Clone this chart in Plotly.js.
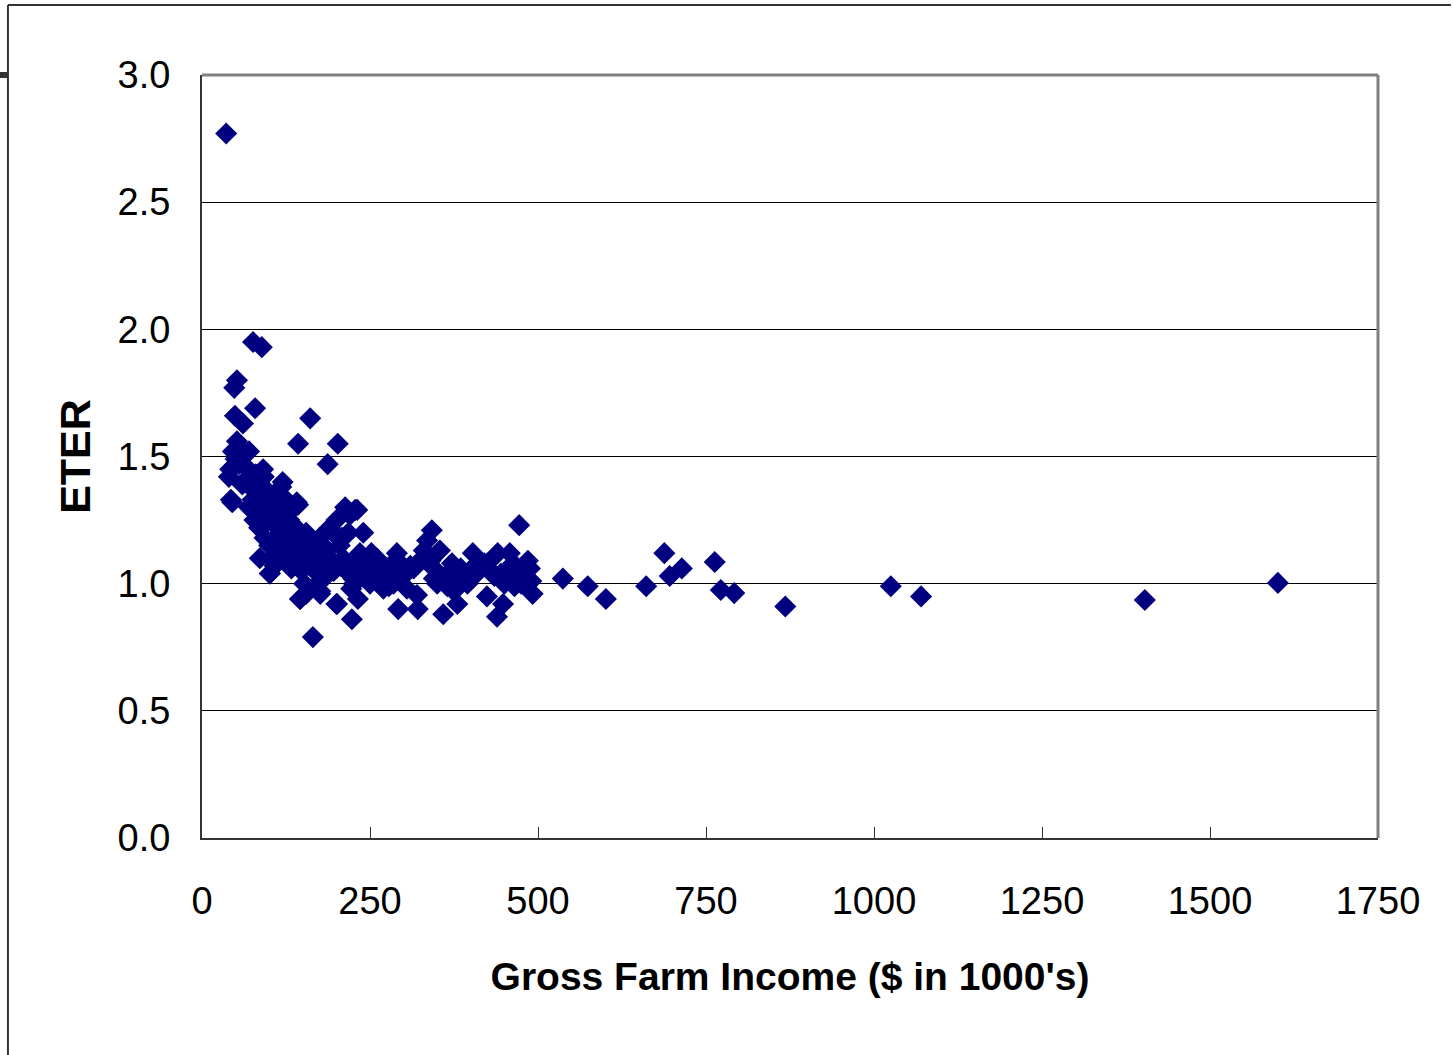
<!DOCTYPE html>
<html>
<head>
<meta charset="utf-8">
<script src="https://cdn.plot.ly/plotly-3.0.1.min.js"></script>
<style>html,body{margin:0;padding:0;background:#fff;}#chart{width:1453px;height:1055px;}</style>
</head>
<body>
<div id="chart"></div>
<script>
// Gross Farm Income ($ in 1000's)
const grossFarmIncome = [
  36, 40, 43, 45, 48, 52, 49, 61, 79, 76, 89, 52, 46, 50, 55, 65, 70, 42, 58, 66,
  72, 80, 85, 92, 60, 75, 82, 88, 95, 100, 78, 85, 90, 98, 105, 110, 118, 125, 93, 100,
  103, 101, 108, 112, 115, 120, 125, 130, 135, 140, 143, 128, 133, 138, 145, 150, 155, 148, 152, 146,
  155, 160, 165, 170, 175, 180, 168, 172, 176, 182, 185, 190, 195, 200, 190, 205, 210, 213, 220, 228,
  231, 215, 200, 222, 225, 230, 235, 240, 232, 245, 250, 255, 260, 265, 270, 275, 280, 290, 285, 292,
  300, 305, 315, 320, 321, 328, 335, 342, 354, 345, 350, 359, 362, 370, 375, 380, 384, 390, 395, 403,
  410, 415, 424, 430, 439, 440, 448, 450, 458, 463, 470, 472, 475, 480, 488, 490, 492, 485,
  161, 143, 202, 187, 91, 120, 141, 86, 101, 146, 176, 201, 223, 165,
  537, 574, 601, 661, 688, 696, 714, 763, 772, 792, 868, 1025, 1070, 1403, 1601,
  70, 82, 95, 108, 118, 130, 112, 122, 136, 158, 163, 178, 186, 196, 208, 218, 238, 248, 258, 268,
  278, 295, 310, 330, 340, 355, 372, 398, 420, 435, 455, 468, 110, 125, 140, 162, 184, 206, 226, 252,
  265, 285, 305, 345, 365, 385, 405, 425, 445, 465
];
// ETER
const eter = [
  2.77, 1.42, 1.33, 1.32, 1.77, 1.80, 1.66, 1.63, 1.69, 1.95, 1.93, 1.56, 1.52, 1.49, 1.47, 1.46, 1.52, 1.45, 1.53, 1.41,
  1.38, 1.43, 1.40, 1.42, 1.39, 1.33, 1.30, 1.35, 1.37, 1.33, 1.25, 1.22, 1.27, 1.30, 1.28, 1.35, 1.38, 1.33, 1.18, 1.15,
  1.10, 1.04, 1.07, 1.22, 1.25, 1.20, 1.15, 1.25, 1.18, 1.22, 1.31, 1.10, 1.06, 1.12, 1.10, 1.15, 1.20, 1.05, 1.00, 0.94,
  0.96, 1.08, 1.14, 1.12, 1.18, 1.15, 1.05, 1.00, 0.97, 1.08, 1.03, 1.10, 1.20, 1.25, 1.22, 1.15, 1.10, 1.30, 1.27, 1.29,
  1.29, 1.05, 0.92, 0.98, 1.02, 1.08, 1.12, 1.20, 0.94, 1.05, 1.00, 1.08, 1.10, 1.04, 0.98, 1.02, 1.07, 1.12, 1.00, 0.90,
  1.03, 1.05, 1.06, 0.955, 0.90, 1.10, 1.17, 1.21, 1.13, 1.06, 1.00, 0.88, 1.03, 1.05, 0.97, 0.92, 1.01, 1.04, 1.00, 1.12,
  1.06, 1.07, 0.95, 1.05, 0.87, 1.12, 0.92, 1.00, 1.12, 1.08, 1.03, 1.23, 1.00, 1.05, 1.06, 1.01, 0.96, 1.09,
  1.65, 1.55, 1.55, 1.47, 1.45, 1.40, 1.32, 1.10, 1.04, 0.94, 0.96, 0.92, 0.86, 0.79,
  1.02, 0.99, 0.94, 0.99, 1.12, 1.03, 1.06, 1.085, 0.975, 0.963, 0.91, 0.99, 0.95, 0.936, 1.003,
  1.30, 1.26, 1.24, 1.18, 1.30, 1.28, 1.13, 1.16, 1.14, 1.12, 1.10, 1.06, 1.13, 1.05, 1.18, 1.20, 1.03, 1.10, 1.06, 1.00,
  0.99, 1.08, 1.07, 1.13, 1.09, 1.02, 1.08, 1.05, 1.08, 1.03, 1.05, 1.06, 1.17, 1.12, 1.15, 1.17, 1.11, 1.07, 1.00, 1.12,
  1.06, 1.04, 0.98, 1.02, 0.99, 1.06, 1.03, 1.08, 1.04, 0.99
];
const xTickVals = [0, 250, 500, 750, 1000, 1250, 1500, 1750];
const yTickVals = [0, 0.5, 1.0, 1.5, 2.0, 2.5, 3.0];
const yTickText = ['0.0', '0.5', '1.0', '1.5', '2.0', '2.5', '3.0'];

const FONT = '"Liberation Sans", Arial, sans-serif';

const trace = {
  x: grossFarmIncome,
  y: eter,
  type: 'scatter',
  mode: 'markers',
  marker: { symbol: 'diamond', size: 17, color: '#000080', line: { width: 0 } },
  hoverinfo: 'x+y'
};

const layout = {
  width: 1453,
  height: 1055,
  margin: { l: 202, r: 75, t: 75, b: 217 },
  paper_bgcolor: '#ffffff',
  plot_bgcolor: '#ffffff',
  showlegend: false,
  font: { family: FONT, color: '#000' },
  xaxis: {
    range: [0, 1750],
    tickvals: xTickVals,
    ticktext: xTickVals.map(String),
    ticks: 'inside',
    ticklen: 11,
    tickwidth: 1,
    tickcolor: '#333',
    showgrid: false,
    zeroline: false,
    showline: true,
    linecolor: '#333',
    linewidth: 2,
    ticklabelstandoff: 28,
    tickfont: { family: FONT, size: 38, color: '#000' },
    title: { text: "<b>Gross Farm Income ($ in 1000's)</b>", font: { family: FONT, size: 39, color: '#000' }, standoff: 42 },
    fixedrange: true
  },
  yaxis: {
    range: [0, 3.0],
    tickvals: yTickVals,
    ticktext: yTickText,
    ticks: '',
    showgrid: true,
    gridcolor: '#000',
    gridwidth: 1,
    zeroline: false,
    showline: true,
    linecolor: '#333',
    linewidth: 2,
    ticklabelstandoff: 22,
    tickfont: { family: FONT, size: 38, color: '#000' },
    title: { text: '<b>ETER</b>', font: { family: FONT, size: 43, color: '#000' }, standoff: 14 },
    fixedrange: true
  },
  shapes: [
    // plot area border (top/right in gray)
    { type: 'line', xref: 'paper', yref: 'paper', x0: 0, x1: 1, y0: 1, y1: 1, line: { color: '#808080', width: 3 } },
    { type: 'line', xref: 'paper', yref: 'paper', x0: 1, x1: 1, y0: 0, y1: 1, line: { color: '#808080', width: 3 } },
    // outer chart frame
    { type: 'line', xref: 'paper', yref: 'paper', x0: -0.165, x1: 1.062, y0: 1.0917, y1: 1.0917, line: { color: '#333', width: 2 } },
    { type: 'line', xref: 'paper', yref: 'paper', x0: -0.165, x1: -0.165, y0: -0.29, y1: 1.0917, line: { color: '#333', width: 2 } },
    { type: 'line', xref: 'paper', yref: 'paper', x0: -0.175, x1: -0.165, y0: 1.0, y1: 1.0, line: { color: '#333', width: 6 } }
  ]
};

Plotly.newPlot('chart', [trace], layout, { staticPlot: true, displayModeBar: false });
</script>
</body>
</html>
